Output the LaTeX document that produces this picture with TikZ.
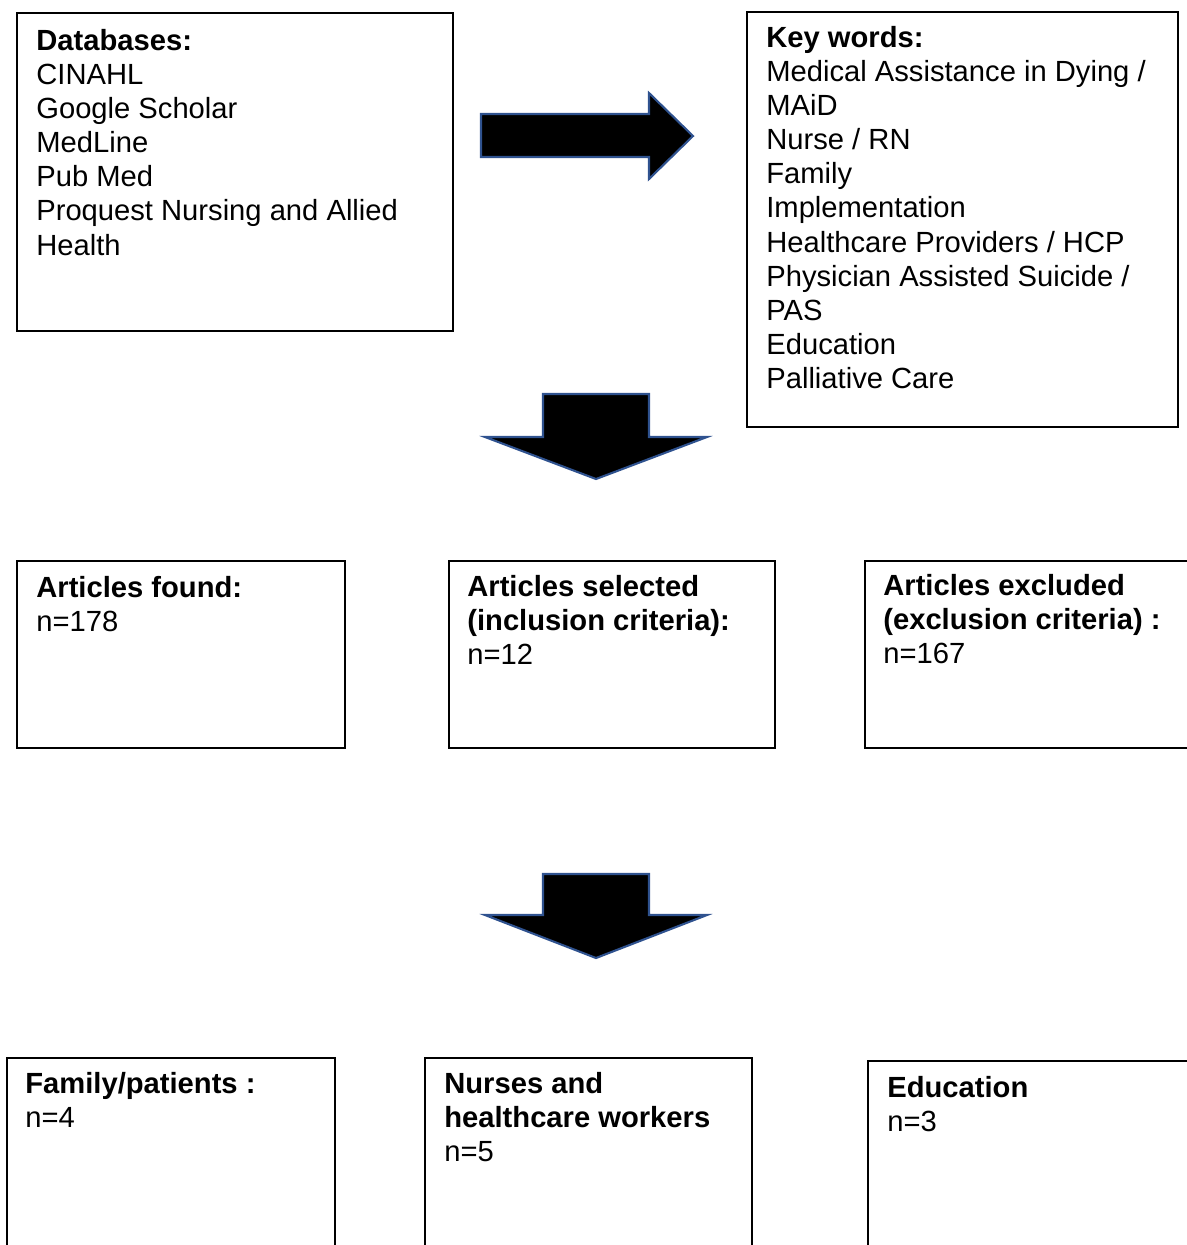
\documentclass[tikz,border=0pt]{standalone}
\usepackage{fontspec}
\setmainfont{Liberation Sans}
\usepackage{tikz}
\definecolor{arrowedge}{RGB}{47,82,143}

\begin{document}
\begin{tikzpicture}[font=\fontsize{16.6pt}{19.4pt}\selectfont,
	box/.style={draw=black, line width=0.9pt},
	txt/.style={anchor=north west, align=left, inner sep=0pt},
	fatarrow/.style={fill=black, draw=arrowedge, line width=1.2pt, line join=miter}]
	\clip (0,0) rectangle (23.74,-24.9);
	% search
	\draw[box] (0.34,-0.26) rectangle (9.06,-6.62);
	\node[txt] (databases) at (0.72,-0.58) {\textbf{Databases:}\\CINAHL\\Google Scholar\\MedLine\\Pub Med\\Proquest Nursing and Allied\\Health};
	\draw[fatarrow] (9.62,-2.28) -- (12.98,-2.28) -- (12.98,-1.86) -- (13.86,-2.72) -- (12.98,-3.58) -- (12.98,-3.14) -- (9.62,-3.14) -- cycle;
	\draw[box] (14.94,-0.24) rectangle (23.56,-8.54);
	\node[txt] (keywords) at (15.32,-0.52) {\textbf{Key words:}\\Medical Assistance in Dying /\\MAiD\\Nurse / RN\\Family\\Implementation\\Healthcare Providers / HCP\\Physician Assisted Suicide /\\PAS\\Education\\Palliative Care};
	\draw[fatarrow] (10.86,-7.88) -- (12.98,-7.88) -- (12.98,-8.74) -- (14.14,-8.74) -- (11.92,-9.58) -- (9.70,-8.74) -- (10.86,-8.74) -- cycle;
	% articles
	\draw[box] (0.34,-11.22) rectangle (6.90,-14.96);
	\node[txt] (found) at (0.72,-11.52) {\textbf{Articles found:}\\n=178};
	\draw[box] (8.98,-11.22) rectangle (15.50,-14.96);
	\node[txt] (selected) at (9.34,-11.50) {\textbf{Articles selected}\\\textbf{(inclusion criteria):}\\n=12};
	\draw[box] (17.30,-11.22) rectangle (24.5,-14.96);
	\node[txt] (excluded) at (17.66,-11.48) {\textbf{Articles excluded}\\\textbf{(exclusion criteria) :}\\n=167};
	\draw[fatarrow] (10.86,-17.48) -- (12.98,-17.48) -- (12.98,-18.30) -- (14.14,-18.30) -- (11.92,-19.16) -- (9.70,-18.30) -- (10.86,-18.30) -- cycle;
	% themes
	\draw[box] (0.14,-21.16) rectangle (6.70,-25.5);
	\node[txt] (family) at (0.50,-21.44) {\textbf{Family/patients :}\\n=4};
	\draw[box] (8.50,-21.16) rectangle (15.04,-25.5);
	\node[txt] (nurses) at (8.88,-21.44) {\textbf{Nurses and}\\\textbf{healthcare workers}\\n=5};
	\draw[box] (17.36,-21.22) rectangle (24.5,-25.5);
	\node[txt] (education) at (17.74,-21.52) {\textbf{Education}\\n=3};
\end{tikzpicture}
\end{document}
